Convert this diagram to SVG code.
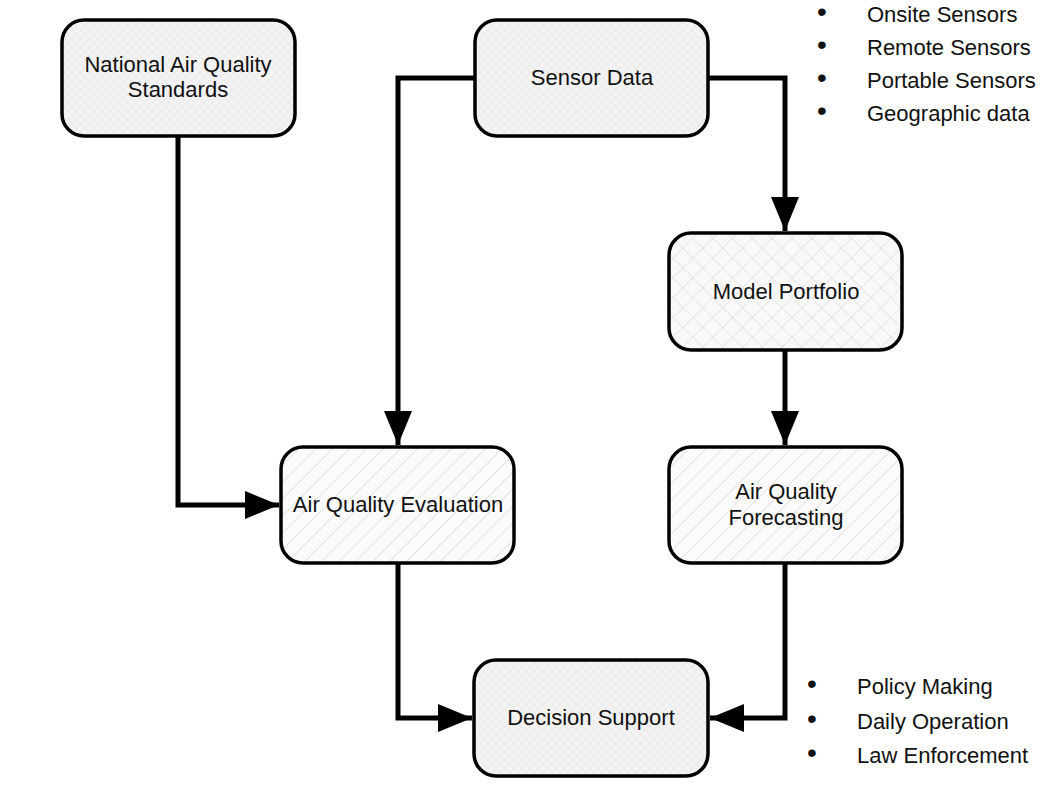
<svg xmlns="http://www.w3.org/2000/svg" width="1057" height="805" viewBox="0 0 1057 805">
<style>
text{font-family:"Liberation Sans",Arial,sans-serif;font-size:22px;fill:#111}
.b{font-size:28px}
.n{stroke:#000;stroke-width:3.5}
.c{fill:none;stroke:#000;stroke-width:5}
</style>
<defs>
<pattern id="diag" width="12" height="12" patternUnits="userSpaceOnUse" patternTransform="rotate(45)"><rect width="12" height="12" fill="#fbfbfb"/><line x1="0" y1="0" x2="0" y2="12" stroke="#e2e2e2" stroke-width="2"/></pattern>
<pattern id="cross" width="14" height="14" patternUnits="userSpaceOnUse" patternTransform="rotate(45)"><rect width="14" height="14" fill="#f9f9f9"/><path d="M0 0V14M0 0H14" stroke="#e0e0e0" stroke-width="1.5"/></pattern>
<pattern id="dots" width="6" height="6" patternUnits="userSpaceOnUse" patternTransform="rotate(45)"><rect width="6" height="6" fill="#f3f3f3"/><path d="M0 0V6M0 0H6" stroke="#e4e4e4" stroke-width="1"/></pattern>
<marker id="a" markerWidth="34" markerHeight="28" refX="34" refY="14" orient="auto" markerUnits="userSpaceOnUse"><path d="M0 0L34 14L0 28Z" fill="#000"/></marker>
</defs>
<g id="connectors">
<path class="c" d="M475 78H398V445" marker-end="url(#a)"/>
<path class="c" d="M708 78H785V231" marker-end="url(#a)"/>
<path class="c" d="M178 136V505H279" marker-end="url(#a)"/>
<path class="c" d="M785 350V445" marker-end="url(#a)"/>
<path class="c" d="M398 563V718H472" marker-end="url(#a)"/>
<path class="c" d="M785 563V718H710" marker-end="url(#a)"/>
</g>
<g id="national"><rect class="n" x="62" y="20" width="233" height="116" rx="22" fill="url(#dots)"/><text x="178" y="72" text-anchor="middle">National Air Quality</text><text x="178" y="97" text-anchor="middle">Standards</text></g>
<g id="sensor"><rect class="n" x="475" y="20" width="233" height="116" rx="22" fill="url(#dots)"/><text x="592" y="85" text-anchor="middle">Sensor Data</text></g>
<g id="model"><rect class="n" x="669" y="233" width="233" height="117" rx="22" fill="url(#cross)"/><text x="786" y="299" text-anchor="middle">Model Portfolio</text></g>
<g id="eval"><rect class="n" x="281" y="447" width="233" height="116" rx="22" fill="url(#diag)"/><text x="398" y="512" text-anchor="middle">Air Quality Evaluation</text></g>
<g id="forecast"><rect class="n" x="669" y="447" width="233" height="116" rx="22" fill="url(#diag)"/><text x="786" y="499" text-anchor="middle">Air Quality</text><text x="786" y="525" text-anchor="middle">Forecasting</text></g>
<g id="decision"><rect class="n" x="474" y="660" width="234" height="116" rx="22" fill="url(#dots)"/><text x="591" y="725" text-anchor="middle">Decision Support</text></g>
<g id="list-top">
<text class="b" x="817" y="21">•</text><text x="867" y="22">Onsite Sensors</text>
<text class="b" x="817" y="54">•</text><text x="867" y="55">Remote Sensors</text>
<text class="b" x="817" y="87">•</text><text x="867" y="88">Portable Sensors</text>
<text class="b" x="817" y="120">•</text><text x="867" y="121">Geographic data</text>
</g>
<g id="list-bottom">
<text class="b" x="807" y="693">•</text><text x="857" y="694">Policy Making</text>
<text class="b" x="807" y="728">•</text><text x="857" y="729">Daily Operation</text>
<text class="b" x="807" y="762">•</text><text x="857" y="763">Law Enforcement</text>
</g>
</svg>
